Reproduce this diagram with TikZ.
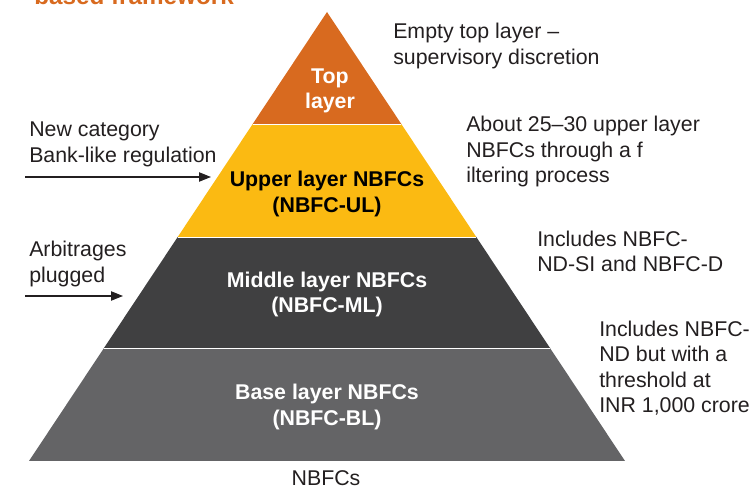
\documentclass[tikz,border=0pt]{standalone}
\usepackage{fontspec}
\setmainfont{Liberation Sans}
\usetikzlibrary{arrows.meta}
\definecolor{toporange}{HTML}{D86A1F}
\definecolor{upperyellow}{HTML}{FBBA12}
\definecolor{middledark}{HTML}{404041}
\definecolor{basegrey}{HTML}{646466}
\definecolor{txtdark}{HTML}{231F20}
\tikzset{
  note/.style={anchor=west, inner sep=0pt, align=left, text=txtdark, font=\fontsize{16}{19}\selectfont},
  layerlabel/.style={inner sep=0pt, align=center, font=\bfseries\fontsize{16}{19}\selectfont},
  pointer/.style={draw=txtdark, line width=0.8pt, -{Triangle[length=9pt,width=7pt]}},
  layer/.style={draw=white, line width=0.4pt}
}
\begin{document}
\begin{tikzpicture}[x=0.75pt,y=-0.75pt]
\useasboundingbox (0,0) rectangle (751,488);
\clip (0,0) rectangle (751,488);
% title (cropped)
\node[anchor=base west, inner sep=0pt, text=toporange, font=\bfseries\fontsize{18.2}{22}\selectfont] (title) at (34,5) {based framework};
% pyramid layers
\fill[basegrey]   (104,348) -- (550,348) -- (625,461) -- (29,461) -- cycle;
\fill[middledark] (177.7,237) -- (476.3,237) -- (550,348) -- (104,348) -- cycle;
\fill[upperyellow](252.7,124) -- (401.3,124) -- (476.3,237) -- (177.7,237) -- cycle;
\fill[toporange]  (327,12) -- (401.3,124) -- (252.7,124) -- cycle;
\draw[layer] (252.7,124) -- (401.3,124);
\draw[layer] (177.7,237) -- (476.3,237);
\draw[layer] (104,348) -- (550,348);
% layer labels
\node[layerlabel, text=white] (top) at (330,91) {Top\\layer};
\node[layerlabel, text=black] (upper) at (327,194) {Upper layer NBFCs\\(NBFC-UL)};
\node[layerlabel, text=white] (middle) at (327,294.5) {Middle layer NBFCs\\(NBFC-ML)};
\node[layerlabel, text=white] (base) at (327,407) {Base layer NBFCs\\(NBFC-BL)};
\node[inner sep=0pt, text=txtdark, font=\fontsize{16}{19}\selectfont] (nbfcs) at (326,478) {NBFCs};
% right notes
\node[note] (n1) at (393,46) {Empty top layer --\\supervisory discretion};
\node[note] (n2) at (466,151.5) {About 25--30 upper layer\\NBFCs through a f\\iltering process};
\node[note] (n3) at (537,251.5) {Includes NBFC-\\ND-SI and NBFC-D};
\node[note] (n4) at (599,368) {Includes NBFC-\\ND but with a\\threshold at\\INR 1,000 crore};
% left notes
\node[note] (l1) at (29,144.5) {New category\\Bank-like regulation};
\node[note] (l2) at (29,264) {Arbitrages\\plugged};
% arrows
\coordinate (a1s) at (25,177);
\coordinate (a1e) at (211,177);
\coordinate (a2s) at (25,296);
\coordinate (a2e) at (123,296);
\draw[pointer] (a1s) -- (a1e);
\draw[pointer] (a2s) -- (a2e);
\end{tikzpicture}
\end{document}
